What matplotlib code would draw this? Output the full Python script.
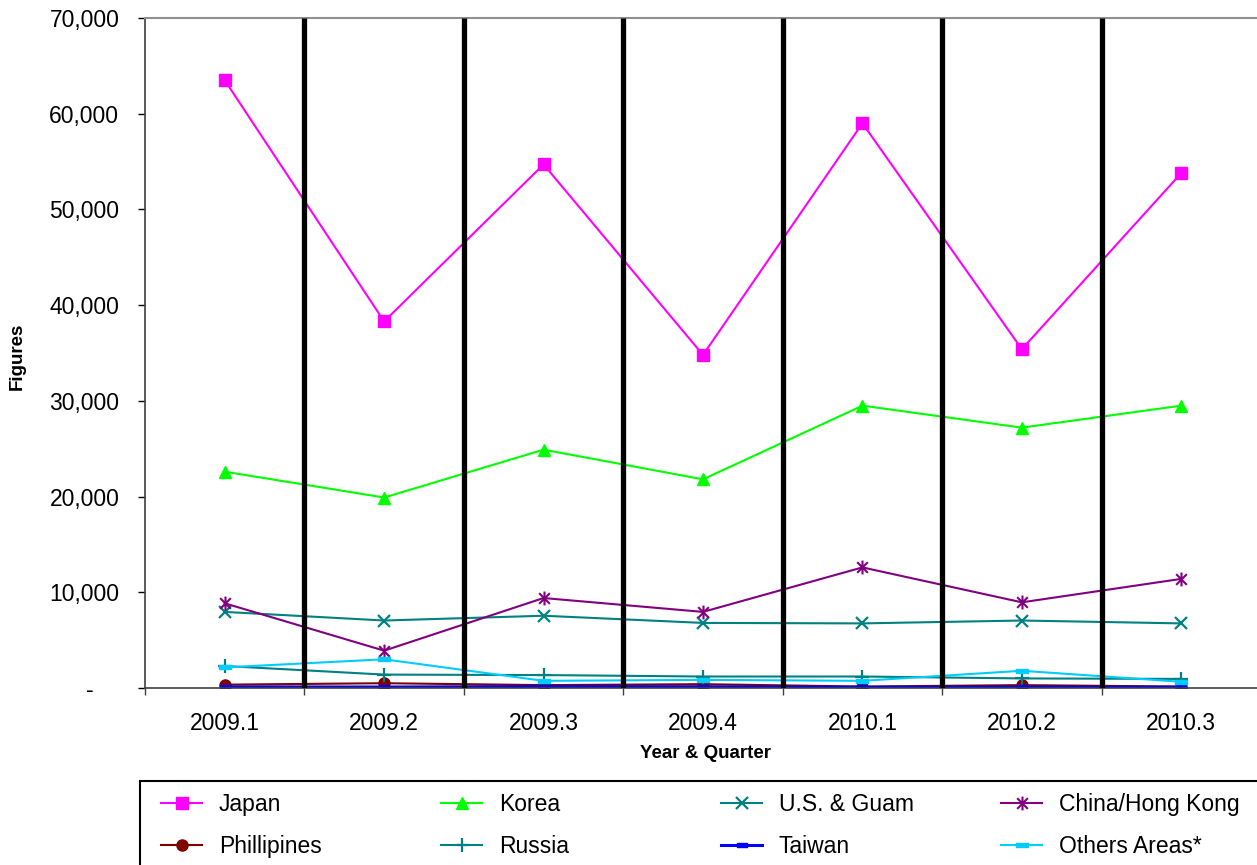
import matplotlib
matplotlib.use("Agg")
import matplotlib.pyplot as plt
from matplotlib.path import Path
from matplotlib.patches import Rectangle
from matplotlib.ticker import FuncFormatter, MultipleLocator, FixedLocator

plt.rcParams['font.family'] = ['Liberation Sans', 'DejaVu Sans']

quarters = ['2009.1', '2009.2', '2009.3', '2009.4', '2010.1', '2010.2', '2010.3']
japan = [63500, 38300, 54700, 34800, 59000, 35400, 53800]
korea = [22600, 19900, 24900, 21800, 29500, 27200, 29500]
us_guam = [7950, 7050, 7550, 6800, 6750, 7050, 6750]
china_hk = [8850, 3900, 9400, 7950, 12600, 8950, 11400]
phillipines = [350, 500, 300, 400, 150, 300, 150]
russia = [2300, 1400, 1350, 1200, 1200, 1000, 950]
taiwan = [120, 100, 150, 130, 80, 100, 80]
others = [2150, 3000, 750, 850, 750, 1800, 650]

W, H = 1257, 865
fig = plt.figure(figsize=(W / 100, H / 100), dpi=100)
ax = fig.add_axes([145 / W, (H - 688) / H, 1116 / W, 670 / H])

x = list(range(len(quarters)))

# custom markers
asterisk = Path([(-1, -1), (1, 1), (-1, 1), (1, -1), (0, -1.3), (0, 1.3)],
                [Path.MOVETO, Path.LINETO, Path.MOVETO, Path.LINETO, Path.MOVETO, Path.LINETO])
dash = Path([(-1, -0.35), (1, -0.35), (1, 0.35), (-1, 0.35), (-1, -0.35)],
            [Path.MOVETO, Path.LINETO, Path.LINETO, Path.LINETO, Path.CLOSEPOLY])

lw = 1.5
h_japan, = ax.plot(x, japan, color='#FF00FF', lw=lw, marker='s', ms=8, label='Japan')
h_korea, = ax.plot(x, korea, color='#00FF00', lw=lw, marker='^', ms=9, label='Korea')
h_us, = ax.plot(x, us_guam, color='#008080', lw=lw, marker='x', ms=9, mew=1.6, label='U.S. & Guam')
h_china, = ax.plot(x, china_hk, color='#800080', lw=lw, marker=asterisk, ms=10, mew=1.5, label='China/Hong Kong')
h_phil, = ax.plot(x, phillipines, color='#800000', lw=lw, marker='o', ms=8, label='Phillipines')
h_russia, = ax.plot(x, russia, color='#008080', lw=lw, marker='+', ms=10, mew=1.6, label='Russia')
h_taiwan, = ax.plot(x, taiwan, color='#0000FF', lw=2.2, marker=dash, ms=7, label='Taiwan')
h_others, = ax.plot(x, others, color='#00CCFF', lw=lw, marker=dash, ms=9, label='Others Areas*')

# thick vertical separators between quarters
for b in [i + 0.5 for i in range(len(quarters) - 1)]:
    ax.plot([b, b], [0, 70000], color='black', lw=3.8, zorder=5, solid_capstyle='butt')

ax.set_xlim(-0.5, len(quarters) - 0.5)
ax.set_ylim(0, 70000)

ax.yaxis.set_major_locator(MultipleLocator(10000))
ax.yaxis.set_major_formatter(FuncFormatter(lambda v, p: '-    ' if v == 0 else f'{int(v):,}'))
ax.tick_params(axis='y', direction='out', length=5, width=1, pad=13.5, labelsize=16.5, colors='black')

ax.set_xticks(x)
ax.set_xticklabels(quarters)
ax.xaxis.set_minor_locator(FixedLocator([i - 0.5 for i in range(len(quarters) + 1)]))
ax.tick_params(axis='x', which='major', length=0, pad=17, labelsize=16.5)
ax.tick_params(axis='x', which='minor', direction='out', length=5, width=1, color='#404040')

for s in ['left', 'bottom']:
    ax.spines[s].set_color('#404040')
    ax.spines[s].set_linewidth(1.2)
ax.spines['top'].set_color('#909090')
ax.spines['top'].set_linewidth(1.5)
ax.spines['right'].set_visible(False)

ax.set_xlabel('Year & Quarter', fontsize=13.5, fontweight='bold')
ax.set_ylabel('Figures', fontsize=13.5, fontweight='bold')
ax.yaxis.label.set_va('center')
ax.yaxis.set_label_coords(17 / W, (H - 356) / H, transform=fig.transFigure)
ax.xaxis.label.set_va('center')
ax.xaxis.set_label_coords(706 / W, (H - 753) / H, transform=fig.transFigure)

# legend frame
fig.patches.append(Rectangle((140 / W, -0.02), 1.0, (H - 781) / H + 0.02,
                             transform=fig.transFigure, fill=False,
                             edgecolor='black', lw=1.5))

columns = [(h_japan, h_phil), (h_korea, h_russia), (h_us, h_taiwan), (h_china, h_others)]
col_x = [161, 441, 721, 1001]
for (ha, hb), cx in zip(columns, col_x):
    fig.legend([ha, hb], [ha.get_label(), hb.get_label()], loc='upper left',
               bbox_to_anchor=(cx / W, (H - 793) / H), frameon=False,
               borderpad=0, borderaxespad=0, handlelength=1.8, handletextpad=0.72,
               labelspacing=0.85, fontsize=16.5)

fig.savefig('out.png', dpi=100, facecolor='white')
